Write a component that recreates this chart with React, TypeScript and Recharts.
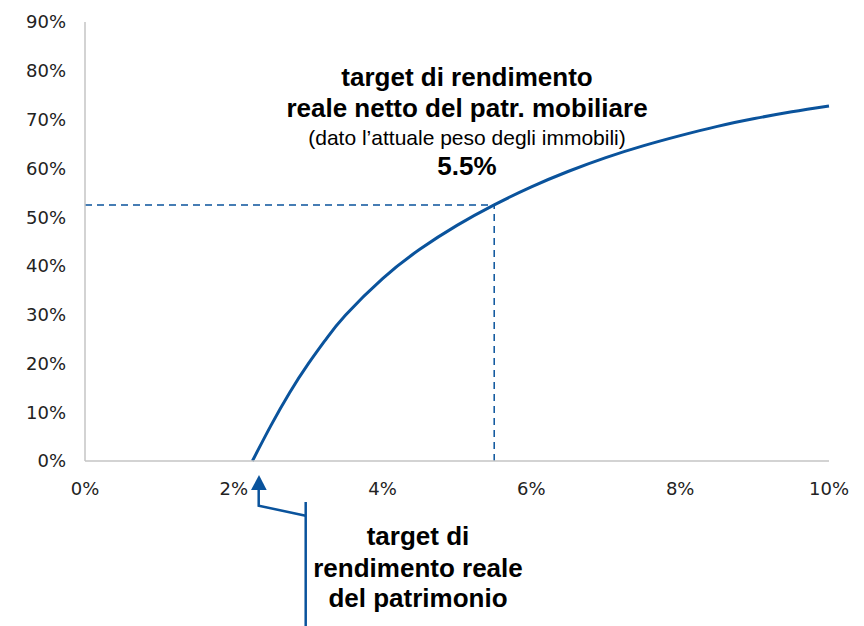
import { LineChart, Line, XAxis, YAxis, ReferenceLine } from 'recharts';

// rendimento del patrimonio mobiliare (%) -> quota (%)
const xVals = [2.25, 2.5, 2.75, 3, 3.25, 3.5, 4, 4.5, 5, 5.5, 6, 6.5, 7, 7.5, 8, 8.5, 9, 9.5, 10];
const yVals = [0, 7.3, 14.0, 19.9, 25.2, 29.9, 37.4, 43.4, 48.3, 52.5, 56.2, 59.4, 62.2, 64.6, 66.7, 68.6, 70.2, 71.6, 72.8];

const xTicks = [0, 2, 4, 6, 8, 10];
const yTicks = [0, 10, 20, 30, 40, 50, 60, 70, 80, 90];

const targetX = 5.5;
const targetY = 52.5;

const topNote = ['target di rendimento', 'reale netto del patr. mobiliare', '(dato l\u2019attuale peso degli immobili)', '5.5%'];
const bottomNote = ['target di', 'rendimento reale', 'del patrimonio'];

const data = xVals.map((x, i) => ({ x, y: yVals[i] }));

const BLUE = '#0a539c';

const AxisTick = ({ x, y, payload, textAnchor, dy }: any) => (
  <text x={x} y={y} dy={dy} textAnchor={textAnchor} fontFamily="DejaVu Sans" fontSize={18} fill="#222">
    {`${payload.value}%`}
  </text>
);

export default function App() {
  return (
    <div style={{ position: 'absolute', left: 0, top: 0, width: 864, height: 626, background: '#fff' }}>
      <LineChart width={864} height={626} data={data} margin={{ top: 22, right: 35, bottom: 125, left: 0 }}>
        <XAxis
          type="number"
          dataKey="x"
          domain={[0, 10]}
          ticks={xTicks}
          tickLine={false}
          tickSize={0}
          tickMargin={21}
          height={40}
          axisLine={{ stroke: '#c4c4c4', strokeWidth: 1.5 }}
          tick={(p: any) => <AxisTick {...p} textAnchor="middle" dy="0.71em" />}
        />
        <YAxis
          type="number"
          domain={[0, 90]}
          ticks={yTicks}
          tickLine={false}
          tickSize={0}
          tickMargin={19}
          width={85}
          axisLine={{ stroke: '#c4c4c4', strokeWidth: 1.5 }}
          tick={(p: any) => <AxisTick {...p} textAnchor="end" dy="0.355em" />}
        />
        <ReferenceLine
          segment={[{ x: 0, y: targetY }, { x: targetX, y: targetY }]}
          stroke={BLUE}
          strokeWidth={1.5}
          strokeDasharray="7 5"
        />
        <ReferenceLine
          segment={[{ x: targetX, y: 0 }, { x: targetX, y: targetY }]}
          stroke={BLUE}
          strokeWidth={1.5}
          strokeDasharray="7 5"
        />
        <Line
          type="natural"
          dataKey="y"
          stroke={BLUE}
          strokeWidth={3}
          dot={false}
          isAnimationActive={false}
        />
      </LineChart>
      <svg width={864} height={626} style={{ position: 'absolute', left: 0, top: 0, pointerEvents: 'none' }}>
        <g fontFamily="Liberation Sans, Arial, sans-serif" textAnchor="middle" fill="#000">
          <text x={467} y={86} fontSize={26} fontWeight="bold">{topNote[0]}</text>
          <text x={467} y={117} fontSize={26} fontWeight="bold">{topNote[1]}</text>
          <text x={467} y={145} fontSize={21}>{topNote[2]}</text>
          <text x={467} y={175} fontSize={26} fontWeight="bold">{topNote[3]}</text>
          <text x={418} y={545} fontSize={26} fontWeight="bold">{bottomNote[0]}</text>
          <text x={418} y={577} fontSize={26} fontWeight="bold">{bottomNote[1]}</text>
          <text x={418} y={607} fontSize={26} fontWeight="bold">{bottomNote[2]}</text>
        </g>
        <g stroke={BLUE} strokeWidth={2.5} fill="none">
          <path d="M305.7 502 L305.7 626" />
          <path d="M305.7 515.7 L258.7 505.7 L258.7 489" />
        </g>
        <polygon points="251,490 266.7,490 259,475" fill={BLUE} />
      </svg>
    </div>
  );
}
